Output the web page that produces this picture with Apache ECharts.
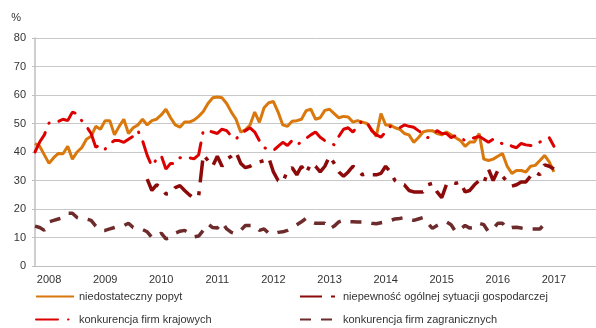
<!DOCTYPE html>
<html>
<head>
<meta charset="utf-8">
<script src="https://cdn.jsdelivr.net/npm/echarts@6/dist/echarts.min.js"></script>
<style>
  html, body { margin: 0; padding: 0; background: #fff; }
  #chart { width: 596px; height: 328px; }
</style>
</head>
<body>
<div id="chart"></div>
<script>
// tick labels (years) - monthly data starts Jan 2008
const years = ['2008', '2009', '2010', '2011', '2012', '2013', '2014', '2015', '2016', '2017', '2018'];

// niedostateczny popyt (monthly, Jan 2008 - Apr 2017)
const popyt = [
  43, 42, 39, 36, 38, 39.5, 39.4, 42, 37.5, 40, 41.5, 44.5,
  45.5, 49, 48, 51, 51, 46, 49, 51.5, 46.5, 48.5, 49.5, 51.5,
  49.5, 51, 51.5, 53, 55, 52, 49.5, 48.7, 50.5, 50.5, 51.2, 52.5,
  54.2, 57, 59, 59.3, 59, 57, 54, 51.5, 47, 47.8, 49.5, 54,
  50.4, 55.5, 57.3, 57.7, 54, 49.5, 49, 50.8, 51, 51.5, 54.5, 55,
  51.5, 52, 54.6, 55, 53.5, 52, 52.5, 52.3, 50.5, 51, 50.5, 50,
  48, 45.5, 53.5, 49.5, 49.5, 48.5, 48, 46.5, 46, 43.4, 45, 47,
  47.5, 47.5, 46.5, 46, 47, 46, 45, 44, 42, 43.5, 43.5, 46.5,
  37.5, 37, 37.5, 38.5, 39.5, 35, 32.5, 33.5, 33.5, 33, 35, 35.3,
  37, 38.8, 36.5, 33
];

// niepewność ogólnej sytuacji gospodarczej (from Jan 2010)
const niepewnosc = [
  null, null, null, null, null, null, null, null, null, null, null, null,
  null, null, null, null, null, null, null, null, null, null, null, null,
  30.5, 26.5, 28.5, 27.5, 25.3, 25.5, 27.5, 28.2, 26.5, 25, 23.8, 24.5,
  39, 37, 35, 38.5, 35, 37.5, 38.5, 40, 36, 34.5, 35, 36,
  36.5, 37, 38, 33, 30, 29.4, 33.5, 34.5, 32, 35, 32.5, 36,
  35, 33, 35, 38.5, 36, 33, 31.5, 33, 35, 34, 32, 32.5,
  32, 32, 32.5, 35, 33, 30, 29, 28.5, 26.5, 26, 26, 26,
  28.5, 29, 26, 24, 28.5, 29.5, 29, 29.5, 26, 26.5, 28.5, 30,
  29, 34, 30, 33.5, 31.5, 29.5, 28, 28.5, 29.5, 29.5, 31.5, 33,
  32, 35.5, 35, 34
];

// konkurencja firm krajowych
const krajowe = [
  40, 43.5, 46, 50.2, 50.5, 50.7, 51.5, 51, 54, 53.4, 51, 49,
  46.5, 41.7, 42.5, 41, 43, 44, 44, 43.4, 44.5, 45.5, 47.5, 44,
  38.8, 35, 37.5, 38.8, 34, 36, 36, 38, 38.2, 38, 37.6, 39,
  47.5, 47.5, 47, 46.5, 48, 47.5, 45.5, 44.5, 46.5, 47.5, 48.5, 47,
  44, 41.5, 41, 40.5, 42, 43.4, 42.3, 44, 42.5, 43.5, 44.8, 46,
  47, 45.2, 44, 43.4, 42.5, 45.5, 48, 48.5, 47, 49, 51, 50.5,
  47.5, 46, 45.2, 47, 49, 48.7, 48.5, 49.5, 49, 48.7, 47.5, 46.4,
  45, 46, 47.5, 46.5, 46.5, 45, 45.8, 45, 44, 44.5, 45, 45.5,
  44.5, 43.4, 44.5, 43.5, 42.9, 43, 42, 41.5, 43, 42.5, 42.3, 42.3,
  43.5, 44, 45, 42
];

// konkurencja firm zagranicznych
const zagraniczne = [
  14, 13.5, 12.5, 15.5, 16, 16.5, 17, 18.5, 18.5, 17, 16.5, 16.5,
  16, 14, 12.5, 12.5, 13, 13.5, 14, 14.2, 15, 13.5, 13, 12.8,
  12, 10, 10.5, 11.5, 9.5, 10, 11.5, 12.2, 12.5, 11.5, 10.2, 10.5,
  12.5, 14.8, 13.5, 13.3, 15.3, 13, 11.8, 11.3, 12.5, 14.2, 14.2, 14.2,
  12.5, 13, 11.5, 11.3, 11.8, 12, 12.5, 13.5, 14.5, 15.5, 16.8, 15.5,
  15, 15, 15, 13, 14, 15.5, 16, 15.5, 15.5, 15.4, 15.4, 15.4,
  15, 14.8, 15.2, 15.5, 16, 16.5, 16.7, 17, 16.5, 16, 16.5, 17,
  15, 13.2, 14.2, 15, 15.5, 14.5, 12, 13, 14.2, 13.3, 13.5, 15,
  14.5, 12, 13, 15, 15, 13, 13.5, 13.6, 13.3, 13, 13, 13,
  13, 14.8
];

// month categories: Jan 2008 .. Jan 2018
const months = [];
years.forEach(y => {
  for (let m = 1; m <= 12; m++) months.push(y + '-' + (m < 10 ? '0' + m : m));
});
const categories = months.slice(0, 121);

const chart = echarts.init(document.getElementById('chart'));

const legendBase = {
  itemWidth: 38,
  itemHeight: 14,
  itemStyle: { opacity: 0 },
  textStyle: { fontSize: 11, color: '#333', fontFamily: 'Liberation Sans, Arial, sans-serif' },
};

chart.setOption({
  animation: false,
  grid: { left: 35, right: 0, top: 38, bottom: 62 },
  xAxis: {
    type: 'category',
    data: categories,
    boundaryGap: false,
    axisLine: { lineStyle: { color: '#bfbfbf', width: 1 } },
    axisTick: { show: false },
    axisLabel: {
      interval: (idx) => idx % 12 === 3,
      formatter: v => v.slice(0, 4),
      fontSize: 11,
      color: '#333',
      margin: 8,
      fontFamily: 'Liberation Sans, Arial, sans-serif',
    },
  },
  yAxis: {
    type: 'value',
    min: 0,
    max: 80,
    interval: 10,
    name: '%',
    nameGap: 15,
    nameTextStyle: { fontSize: 11, color: '#333', align: 'right', padding: [0, 14, 0, 0], fontFamily: 'Liberation Sans, Arial, sans-serif' },
    axisLine: { show: true, lineStyle: { color: '#bfbfbf', width: 1.5 } },
    axisTick: { show: true, length: 3, lineStyle: { color: '#bfbfbf' } },
    axisLabel: { fontSize: 11, color: '#333', margin: 9, fontFamily: 'Liberation Sans, Arial, sans-serif' },
    splitLine: { lineStyle: { color: '#c8c8c8', width: 1 } },
  },
  legend: [
    Object.assign({ data: ['niedostateczny popyt'], left: 30, top: 286 }, legendBase),
    Object.assign({ data: ['niepewność ogólnej sytuacji gospodarczej'], left: 294, top: 286 }, legendBase),
    Object.assign({ data: ['konkurencja firm krajowych'], left: 30, top: 309 }, legendBase),
    Object.assign({ data: ['konkurencja firm zagranicznych'], left: 294, top: 309 }, legendBase),
  ],
  series: [
    {
      name: 'niedostateczny popyt',
      type: 'line',
      data: popyt,
      symbol: 'none',
      lineStyle: { color: '#D9780C', width: 3 },
      itemStyle: { color: '#D9780C' },
    },
    {
      name: 'niepewność ogólnej sytuacji gospodarczej',
      type: 'line',
      data: niepewnosc,
      symbol: 'none',
      lineStyle: { color: '#8C0A0A', width: 3.5, type: [22, 9, 4, 9] },
      itemStyle: { color: '#8C0A0A' },
    },
    {
      name: 'konkurencja firm krajowych',
      type: 'line',
      data: krajowe,
      symbol: 'none',
      lineStyle: { color: '#DC0000', width: 3, type: [22, 10, 0.5, 10], cap: 'round' },
      itemStyle: { color: '#DC0000' },
    },
    {
      name: 'konkurencja firm zagranicznych',
      type: 'line',
      data: zagraniczne,
      symbol: 'none',
      lineStyle: { color: '#6E2B2B', width: 3.5, type: [11, 10] },
      itemStyle: { color: '#6E2B2B' },
    },
  ],
});
</script>
</body>
</html>
